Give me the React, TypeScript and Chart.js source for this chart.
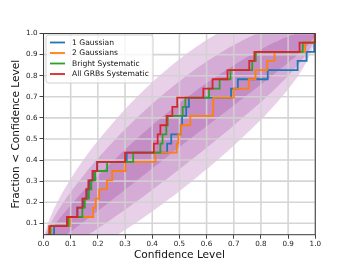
import React, { useEffect, useRef } from "react";
import { Chart, registerables } from "chart.js";

Chart.register(...registerables);

// Fraction of GRBs (23 events) reached after each step
const fractionLevels = [
  0.043, 0.087, 0.13, 0.174, 0.217, 0.261, 0.304, 0.348, 0.391, 0.435, 0.478, 0.522,
  0.565, 0.609, 0.652, 0.696, 0.739, 0.783, 0.826, 0.87, 0.913, 0.957, 1.0,
];

// Confidence level at which each step occurs
const oneGaussian = [
  0.01, 0.039, 0.088, 0.124, 0.146, 0.16, 0.17, 0.186, 0.197, 0.306, 0.455, 0.47,
  0.505, 0.51, 0.525, 0.535, 0.69, 0.715, 0.825, 0.935, 0.968, 0.996, 1.0,
];
const twoGaussians = [
  0.015, 0.028, 0.097, 0.183, 0.192, 0.205, 0.233, 0.253, 0.302, 0.412, 0.49, 0.496,
  0.506, 0.54, 0.624, 0.625, 0.7, 0.755, 0.78, 0.823, 0.85, 0.963, 0.998,
];
const brightSystematic = [
  0.01, 0.025, 0.092, 0.143, 0.152, 0.167, 0.176, 0.19, 0.234, 0.33, 0.43, 0.438,
  0.452, 0.457, 0.512, 0.522, 0.609, 0.648, 0.688, 0.768, 0.781, 0.954, 0.999,
];
const allGrbsSystematic = [
  0.005, 0.021, 0.086, 0.125, 0.143, 0.157, 0.165, 0.18, 0.198, 0.3, 0.406, 0.42,
  0.43, 0.453, 0.474, 0.492, 0.588, 0.622, 0.677, 0.757, 0.776, 0.942, 0.998,
];

const seriesNames = ["1 Gaussian", "2 Gaussians", "Bright Systematic", "All GRBs Systematic"];
const seriesColors = ["#1f77b4", "#ff7f0e", "#2ca02c", "#d62728"];

// Shaded confidence regions (edges)
const bandX = [
  0, 0.005, 0.015, 0.03, 0.06, 0.1, 0.15, 0.2, 0.3, 0.4, 0.5, 0.6, 0.7, 0.8, 0.85, 0.9,
  0.94, 0.97, 0.985, 0.995, 1.0,
];
const band1Upper = [
  0, 0.021, 0.044, 0.073, 0.124, 0.186, 0.258, 0.325, 0.45, 0.565, 0.669, 0.765, 0.85,
  0.925, 0.958, 0.986, 1.004, 1.013, 1.014, 1.011, 1.0,
];
const band1Lower = [
  0, -0.008, -0.007, 0.002, 0.025, 0.061, 0.109, 0.158, 0.259, 0.36, 0.461, 0.56, 0.659,
  0.758, 0.809, 0.861, 0.905, 0.942, 0.964, 0.982, 1.0,
];
const band2Upper = [
  0, 0.036, 0.07, 0.109, 0.174, 0.249, 0.332, 0.408, 0.546, 0.667, 0.774, 0.867, 0.946,
  1.008, 1.032, 1.048, 1.054, 1.049, 1.04, 1.026, 1.0,
];
const band2Lower = [
  0, -0.023, -0.032, -0.034, -0.024, -0.002, 0.034, 0.075, 0.164, 0.258, 0.356, 0.458,
  0.564, 0.675, 0.734, 0.798, 0.856, 0.906, 0.938, 0.967, 1.0,
];
const band3Upper = [
  0, 0.05, 0.095, 0.144, 0.223, 0.311, 0.407, 0.492, 0.641, 0.769, 0.878, 0.969, 1.041,
  1.092, 1.107, 1.111, 1.103, 1.084, 1.065, 1.04, 1.0,
];
const band3Lower = [
  0, -0.038, -0.057, -0.069, -0.074, -0.064, -0.04, -0.009, 0.068, 0.156, 0.252, 0.356,
  0.468, 0.591, 0.66, 0.736, 0.806, 0.871, 0.913, 0.952, 1.0,
];

const xTicks = [0, 0.1, 0.2, 0.3, 0.4, 0.5, 0.6, 0.7, 0.8, 0.9, 1.0];
const yTicks = [0.1, 0.2, 0.3, 0.4, 0.5, 0.6, 0.7, 0.8, 0.9, 1.0];

const FONT = "'DejaVu Sans', 'Liberation Sans', sans-serif";

function stepPoints(xs: number[]) {
  return xs.map((x, i) => ({ x, y: fractionLevels[i] }));
}

function bandPolygon(upper: number[], lower: number[]) {
  const pts = bandX.map((x, i) => ({ x, y: upper[i] }));
  for (let i = bandX.length - 2; i >= 1; i--) pts.push({ x: bandX[i], y: lower[i] });
  return pts;
}

const gridPlugin = {
  id: "ppGrid",
  afterDatasetDraw(chart: any, args: any) {
    const ds = chart.data.datasets[args.index];
    if (ds.order !== 4) return;
    const { ctx, chartArea } = chart;
    const xs = chart.scales.x;
    const ys = chart.scales.y;
    ctx.save();
    ctx.beginPath();
    ctx.rect(chartArea.left, chartArea.top, chartArea.right - chartArea.left, chartArea.bottom - chartArea.top);
    ctx.clip();
    ctx.strokeStyle = "rgba(208,208,208,0.9)";
    ctx.lineWidth = 1.6;
    ctx.beginPath();
    xTicks.forEach((v) => {
      const px = xs.getPixelForValue(v);
      ctx.moveTo(px, chartArea.top);
      ctx.lineTo(px, chartArea.bottom);
    });
    yTicks.forEach((v) => {
      const py = ys.getPixelForValue(v);
      ctx.moveTo(chartArea.left, py);
      ctx.lineTo(chartArea.right, py);
    });
    ctx.stroke();
    ctx.restore();
  },
};

const frameLegendPlugin = {
  id: "ppFrameLegend",
  afterDraw(chart: any) {
    const { ctx, chartArea } = chart;
    const { left, top, right, bottom } = chartArea;
    ctx.save();
    // spines
    ctx.strokeStyle = "#3a3a3a";
    ctx.lineWidth = 1;
    ctx.strokeRect(left, top, right - left, bottom - top);
    // legend
    const bx = left + 2.5;
    const by = top + 1.5;
    const bw = 107;
    const bh = 48;
    const r = 2.5;
    ctx.beginPath();
    ctx.moveTo(bx + r, by);
    ctx.lineTo(bx + bw - r, by);
    ctx.quadraticCurveTo(bx + bw, by, bx + bw, by + r);
    ctx.lineTo(bx + bw, by + bh - r);
    ctx.quadraticCurveTo(bx + bw, by + bh, bx + bw - r, by + bh);
    ctx.lineTo(bx + r, by + bh);
    ctx.quadraticCurveTo(bx, by + bh, bx, by + bh - r);
    ctx.lineTo(bx, by + r);
    ctx.quadraticCurveTo(bx, by, bx + r, by);
    ctx.closePath();
    ctx.fillStyle = "rgba(255,255,255,0.8)";
    ctx.fill();
    ctx.strokeStyle = "#d0d0d0";
    ctx.lineWidth = 1;
    ctx.stroke();
    ctx.font = `7.6px ${FONT}`;
    ctx.textBaseline = "middle";
    ctx.textAlign = "left";
    seriesNames.forEach((name, i) => {
      const y = by + 7.5 + i * 10.5;
      ctx.strokeStyle = seriesColors[i];
      ctx.lineWidth = 1.8;
      ctx.beginPath();
      ctx.moveTo(bx + 4, y);
      ctx.lineTo(bx + 19, y);
      ctx.stroke();
      ctx.fillStyle = "#111";
      ctx.fillText(name, bx + 26, y + 0.3);
    });
    ctx.restore();
  },
};

export default function App() {
  const canvasRef = useRef<HTMLCanvasElement | null>(null);

  useEffect(() => {
    const canvas = canvasRef.current;
    if (!canvas) return;
    const series = [oneGaussian, twoGaussians, brightSystematic, allGrbsSystematic];
    const lineOrders = [3, 2, 1, 0];
    const lineSets = series.map((xs, i) => ({
      label: seriesNames[i],
      data: stepPoints(xs),
      borderColor: seriesColors[i],
      backgroundColor: seriesColors[i],
      borderWidth: 1.8,
      pointRadius: 0,
      stepped: true as const,
      fill: false,
      tension: 0,
      order: lineOrders[i],
    }));
    const bands = [
      [band3Upper, band3Lower, 6],
      [band2Upper, band2Lower, 5],
      [band1Upper, band1Lower, 4],
    ].map(([u, l, o]: any) => ({
      label: "band" + o,
      data: bandPolygon(u, l),
      borderWidth: 0,
      borderColor: "rgba(0,0,0,0)",
      backgroundColor: "rgba(128,0,128,0.18)",
      pointRadius: 0,
      fill: "shape" as const,
      tension: 0.3,
      capBezierPoints: false,
      order: o,
    }));

    const chart = new Chart(canvas, {
      type: "line",
      data: { datasets: [...lineSets, ...bands] as any },
      options: {
        animation: false,
        responsive: false,
        maintainAspectRatio: false,
        devicePixelRatio: 1,
        layout: { padding: { left: 0, right: 36.7, top: 33.5, bottom: 0 } },
        plugins: {
          legend: { display: false },
          tooltip: { enabled: false },
        },
        scales: {
          x: {
            type: "linear",
            min: 0,
            max: 1.0,
            afterFit: (s: any) => {
              s.height = 29.3;
            },
            afterBuildTicks: (s: any) => {
              s.ticks = xTicks.map((v) => ({ value: v }));
            },
            ticks: {
              callback: (v: any) => Number(v).toFixed(1),
              font: { family: FONT, size: 7.2 },
              color: "#222",
              padding: 1,
              maxRotation: 0,
              autoSkip: false,
            },
            grid: {
              display: true,
              drawOnChartArea: false,
              drawTicks: true,
              tickLength: 4,
              tickColor: "#444",
              tickWidth: 1,
            },
            border: { display: false },
            title: {
              display: true,
              text: "Confidence Level",
              font: { family: FONT, size: 10.6 },
              color: "#111",
              padding: { top: 0, bottom: 2.6 },
            },
          },
          y: {
            type: "linear",
            min: 0.046,
            max: 1.0,
            afterFit: (s: any) => {
              s.width = 43.5;
            },
            afterBuildTicks: (s: any) => {
              s.ticks = yTicks.map((v) => ({ value: v }));
            },
            ticks: {
              callback: (v: any) => Number(v).toFixed(1),
              font: { family: FONT, size: 7.2 },
              color: "#222",
              padding: 2,
              autoSkip: false,
            },
            grid: {
              display: true,
              drawOnChartArea: false,
              drawTicks: true,
              tickLength: 4,
              tickColor: "#444",
              tickWidth: 1,
            },
            border: { display: false },
            title: {
              display: true,
              text: "Fraction < Confidence Level",
              font: { family: FONT, size: 10.6 },
              color: "#111",
              padding: { top: 9.6, bottom: 0 },
            },
          },
        },
      },
      plugins: [gridPlugin, frameLegendPlugin],
    });
    return () => chart.destroy();
  }, []);

  return (
    <div style={{ position: "absolute", left: 0, top: 0, width: 352, height: 264, background: "#fff" }}>
      <canvas ref={canvasRef} width={352} height={264} style={{ width: 352, height: 264, display: "block" }} />
    </div>
  );
}
